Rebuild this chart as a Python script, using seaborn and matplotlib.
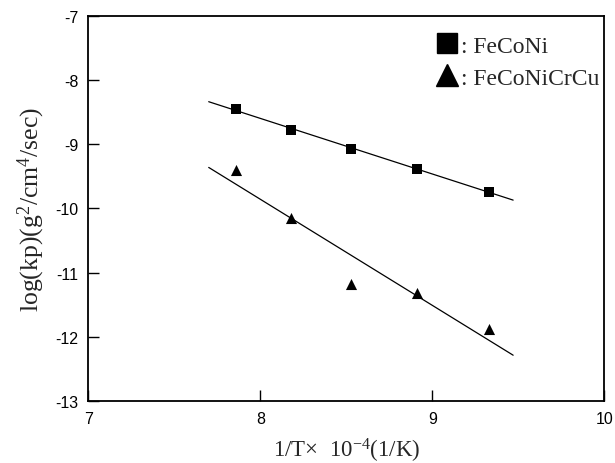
import numpy as np
import pandas as pd
import seaborn as sns
import matplotlib.pyplot as plt
from matplotlib.lines import Line2D

# values
inv_t = [7.86, 8.18, 8.53, 8.91, 9.33]
feconi = [-8.45, -8.78, -9.07, -9.38, -9.74]
feconicrcu = [-9.40, -10.15, -11.17, -11.32, -11.88]
fit_range = [7.70, 9.47]

sns.set_style('ticks')
plt.rcParams['font.family'] = ['Liberation Serif', 'DejaVu Serif']
plt.rcParams['mathtext.fontset'] = 'custom'
plt.rcParams['mathtext.rm'] = 'Liberation Serif'
plt.rcParams['mathtext.it'] = 'Liberation Serif:italic'
plt.rcParams['axes.unicode_minus'] = False

df = pd.DataFrame({'x': inv_t * 2,
                   'y': feconi + feconicrcu,
                   'alloy': ['FeCoNi'] * 5 + ['FeCoNiCrCu'] * 5})

fig = plt.figure(figsize=(6.15, 4.64), dpi=100)
ax = fig.add_axes([0.1436, 0.133, 0.839, 0.831])

# linear fits through each series
xs = np.array(fit_range)
for vals in (feconi, feconicrcu):
    k, b = np.polyfit(inv_t, vals, 1)
    sns.lineplot(x=xs, y=k * xs + b, color='black', lw=0.9, ax=ax)

sns.scatterplot(data=df[df.alloy == 'FeCoNi'], x='x', y='y', marker='s',
                s=42, color='black', edgecolor='black', linewidth=0, ax=ax, legend=False)
sns.scatterplot(data=df[df.alloy == 'FeCoNiCrCu'], x='x', y='y', marker='^',
                s=64, color='black', edgecolor='black', linewidth=0, ax=ax, legend=False)

ax.set_xlim(7, 10)
ax.set_ylim(-13, -7)
ax.set_xticks([7, 8, 9, 10])
ax.set_yticks([-13, -12, -11, -10, -9, -8, -7])
ax.tick_params(direction='in', length=8, width=1, labelsize=11.5,
               labelfontfamily='Liberation Sans', pad=7, colors='black')
for s in ax.spines.values():
    s.set_linewidth(1.3)
    s.set_color('black')

ax.set_xlabel('1/T\u00d7  10$^{-4}$(1/K)', fontsize=16.5, labelpad=7)
ax.set_ylabel('log(kp)(g$^2$/cm$^4$/sec)', fontsize=18.5, labelpad=6)

handles = [Line2D([], [], marker='s', ls='none', color='black', ms=15),
           Line2D([], [], marker='^', ls='none', color='black', ms=16)]
ax.legend(handles, [': FeCoNi', ': FeCoNiCrCu'], loc='upper left',
          bbox_to_anchor=(0.672, 0.95), frameon=False, fontsize=17,
          handlelength=1.0, handletextpad=0.1, borderpad=0, borderaxespad=0,
          labelspacing=0.45)

fig.savefig('out.png', dpi=100)
